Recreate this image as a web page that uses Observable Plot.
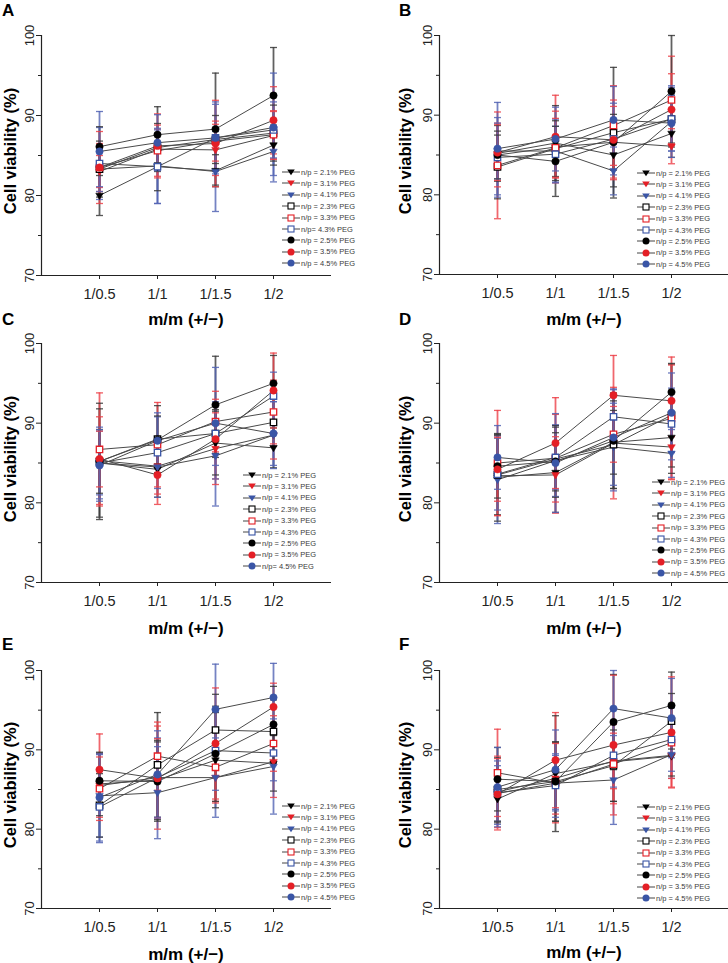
<!DOCTYPE html>
<html><head><meta charset="utf-8">
<script src="https://cdn.jsdelivr.net/npm/d3@7"></script>
<script src="https://cdn.jsdelivr.net/npm/@observablehq/plot@0.6"></script>
<style>
body{margin:0;background:#fff;}
#chart{position:relative;width:728px;height:963px;overflow:hidden;font-family:"Liberation Sans",Arial,sans-serif;background:#fff;}
.panel{position:absolute;}
.panel svg{overflow:visible;max-width:none!important;}
.letter{position:absolute;font-weight:bold;font-size:17px;line-height:1;}
.xtitle{position:absolute;font-weight:bold;font-size:17px;transform:translate(-50%,-50%);white-space:nowrap;line-height:1;}
.ytitle{position:absolute;font-weight:bold;font-size:16.5px;transform:translate(-50%,-50%) rotate(-90deg);white-space:nowrap;line-height:1;}
.lrow{position:absolute;height:10px;display:flex;align-items:center;font-size:7.5px;color:#3a3a3a;white-space:nowrap;}
.lrow svg{flex:none;}
</style></head>
<body><div id="chart"></div>
<script>
// ---------- data ----------
const categories = ["1/0.5", "1/1", "1/1.5", "1/2"];
const seriesLabels = ["n/p = 2.1% PEG","n/p = 3.1% PEG","n/p = 4.1% PEG","n/p = 2.3% PEG","n/p = 3.3% PEG","n/p = 4.3% PEG","n/p = 2.5% PEG","n/p = 3.5% PEG","n/p = 4.5% PEG"];
const legendOverrides = {A: {5: "n/p= 4.3% PEG"}, C: {8: "n/p= 4.5% PEG"}};
const panelLetters = ["A","B","C","D","E","F"];
const yTicks = [70, 80, 90, 100];
const yMinorTicks = [75, 85, 95];
const xTitle = "m/m (+/\u2212)";
const yTitle = "Cell viability (%)";

const valuesA = [
  [80.0,83.6,83.1,86.3],[83.0,85.8,85.7,87.5],[83.3,83.7,83.0,85.5],
  [83.3,86.0,87.0,87.8],[83.5,85.6,86.8,87.6],[84.0,83.6,87.2,88.2],
  [86.1,87.6,88.3,92.5],[83.5,86.2,86.5,89.4],[85.5,86.6,87.2,88.5]];
const errorsA = [
  [2.5,3.0,2.0,2.5],[2.0,2.5,3.2,3.0],[2.2,4.7,5.0,3.0],
  [3.5,3.0,3.0,3.5],[3.0,3.2,2.5,3.0],[4.5,4.6,4.2,3.5],
  [2.5,3.5,7.0,6.0],[4.5,4.0,5.4,4.2],[5.0,3.5,4.5,6.8]];

const valuesB = [
  [85.2,86.5,85.0,87.7],[85.0,86.0,86.6,86.1],[85.5,85.5,83.0,89.2],
  [83.5,85.8,87.8,89.5],[83.7,85.9,88.7,91.9],[84.7,85.1,87.0,89.5],
  [85.0,84.2,86.6,93.0],[85.3,87.3,86.9,90.7],[85.8,87.0,89.4,89.0]];
const errorsB = [
  [3.5,4.7,4.0,3.0],[4.0,4.5,4.5,2.2],[3.5,4.0,3.0,4.5],
  [4.0,3.5,8.2,3.0],[6.7,3.7,5.0,5.5],[5.0,3.5,4.5,4.0],
  [3.0,4.4,3.5,7.0],[3.5,5.2,5.0,4.5],[5.8,4.0,4.2,3.5]];

const valuesC = [
  [85.0,84.2,87.5,86.9],[85.3,84.6,86.8,88.5],[85.0,84.5,85.9,88.5],
  [85.2,88.0,88.7,90.1],[86.7,87.3,90.2,91.4],[85.0,86.3,88.7,93.4],
  [85.2,87.9,92.3,95.0],[85.5,83.5,88.0,94.1],[84.7,87.8,90.0,88.7]];
const errorsC = [
  [6.8,3.5,4.0,2.5],[5.5,3.5,4.5,3.0],[4.5,3.8,6.3,4.2],
  [7.3,4.2,3.0,3.0],[7.1,5.3,3.8,4.0],[4.0,4.5,4.0,3.0],
  [4.0,3.0,6.1,3.5],[3.5,3.7,5.0,4.7],[4.5,3.5,7.0,4.0]];

const valuesD = [
  [83.2,83.8,87.6,88.2],[83.4,83.5,87.5,87.0],[82.9,85.3,87.0,86.2],
  [83.5,85.5,87.3,91.0],[85.0,85.6,88.6,90.6],[83.6,85.7,90.8,89.9],
  [84.6,85.2,87.8,93.9],[84.2,87.5,93.5,92.8],[85.7,85.0,88.2,91.3]];
const errorsD = [
  [5.5,5.0,4.0,4.5],[5.0,4.8,7.0,4.0],[5.5,4.5,5.5,3.0],
  [5.0,4.0,5.5,6.5],[6.6,5.5,3.5,7.7],[4.5,4.0,3.5,4.5],
  [4.0,4.5,6.0,3.5],[4.0,5.7,5.0,4.5],[4.0,6.2,6.0,5.0]];

const valuesE = [
  [85.7,86.2,88.7,88.3],[85.5,86.5,86.5,88.5],[84.2,84.6,86.5,87.9],
  [83.0,88.1,92.5,92.3],[85.1,89.2,87.8,90.8],[82.8,86.5,89.9,89.6],
  [86.1,86.0,89.5,93.2],[87.5,86.4,90.8,95.4],[84.0,86.9,95.1,96.6]];
const errorsE = [
  [4.0,5.0,6.0,3.5],[4.0,6.5,3.0,4.5],[5.2,5.8,5.0,6.0],
  [4.0,6.6,4.5,4.0],[4.0,4.3,4.5,3.5],[4.5,5.0,5.0,3.5],
  [3.5,5.0,6.0,4.8],[4.5,5.0,7.0,3.0],[5.5,5.5,5.7,4.3]];

const valuesF = [
  [83.8,87.0,88.5,89.2],[84.7,86.4,88.6,89.3],[84.5,85.8,86.2,89.4],
  [85.0,86.0,88.0,93.6],[87.1,85.8,88.2,90.9],[84.6,85.5,89.3,91.3],
  [86.3,86.0,93.5,95.6],[84.4,88.7,90.6,92.2],[85.3,87.5,95.2,94.0]];
const errorsF = [
  [3.0,7.3,5.0,2.5],[4.5,4.5,3.5,4.0],[3.5,3.5,5.6,3.0],
  [4.0,5.0,4.5,3.5],[5.5,5.0,5.0,4.5],[4.0,4.0,4.0,4.0],
  [4.0,5.0,6.0,4.2],[4.5,6.0,8.8,7.0],[5.0,5.0,4.8,5.0]];

const panelValues = [valuesA, valuesB, valuesC, valuesD, valuesE, valuesF];
const panelErrors = [errorsA, errorsB, errorsC, errorsD, errorsE, errorsF];

// ---------- styles / layout ----------
const shapeOf = ["tri","tri","tri","sq","sq","sq","circ","circ","circ"];
const hueOf = ["k","r","b","k","r","b","k","r","b"];
const markColor = {k:"#000000", r:"#e41f26", b:"#3a55a6"};
const errColor = {k:"#3a3a3a", r:"#ec4148", b:"#5264b4"};

const layout = [
  {left:0,   ml:41, frameTop:35,  frameH:240, letterTop:2,   titleY:319, legX:282, legY:172, yTitleX:10},
  {left:364, ml:75, frameTop:35,  frameH:239, letterTop:2,   titleY:319, legX:637, legY:173, yTitleX:405},
  {left:0,   ml:41, frameTop:343, frameH:239, letterTop:311, titleY:628, legX:243, legY:475, yTitleX:10},
  {left:364, ml:75, frameTop:343, frameH:239, letterTop:311, titleY:628, legX:652, legY:482, yTitleX:405},
  {left:0,   ml:41, frameTop:670, frameH:238, letterTop:636, titleY:954, legX:282, legY:806, yTitleX:10},
  {left:364, ml:75, frameTop:670, frameH:238, letterTop:636, titleY:952, legX:637, legY:807, yTitleX:405}
];

const triDown = {draw(ctx, size){ const s = Math.sqrt(size/Math.PI)*1.05; ctx.moveTo(-s,-s*0.62); ctx.lineTo(s,-s*0.62); ctx.lineTo(0,s*1.05); ctx.closePath(); }};
const capSym = {draw(ctx){ ctx.moveTo(-3.5,0); ctx.lineTo(3.5,0); }};

const chart = document.getElementById("chart");

panelLetters.forEach((letter, p) => {
  const L = layout[p];
  const rows = [];
  panelValues[p].forEach((vals, s) => vals.forEach((v, i) => rows.push({s, xi:i, v, e:panelErrors[p][s][i]})));
  const mt = 30, mb = 40;
  const width = L.ml + 290 + 1;
  const height = mt + L.frameH + mb;
  const mc = d => markColor[hueOf[d.s]];
  const ec = d => errColor[hueOf[d.s]];
  const svg = Plot.plot({
    width, height,
    marginLeft: L.ml, marginRight: 1, marginTop: mt, marginBottom: mb,
    x: {type:"linear", domain:[-1,4]},
    y: {domain:[70,100]},
    color: {type:"identity"},
    style: {fontFamily:'"Liberation Sans", Arial, sans-serif', background:"transparent", overflow:"visible", color:"#222"},
    marks: [
      Plot.axisY(yMinorTicks, {tickSize:3, tickFormat: () => "", label:null}),
      Plot.axisY(yTicks, {tickSize:5, tickPadding:3, tickRotate:-90, fontSize:13, label:null}),
      Plot.axisX([0,1,2,3], {tickSize:4, tickPadding:9, tickFormat: i => categories[i], fontSize:14.5, label:null}),
      Plot.ruleX([-1], {stroke:"#222", strokeWidth:1.2}),
      Plot.ruleY([70], {stroke:"#222", strokeWidth:1.2}),
      Plot.ruleX(rows, {x:"xi", y1: d => d.v - d.e, y2: d => d.v + d.e, stroke: ec, strokeWidth:1.8, strokeOpacity:0.8}),
      Plot.dot(rows, {x:"xi", y: d => d.v + d.e, symbol: capSym, r:3, stroke: ec, fill:"none", strokeWidth:1.3, strokeOpacity:0.85}),
      Plot.dot(rows, {x:"xi", y: d => d.v - d.e, symbol: capSym, r:3, stroke: ec, fill:"none", strokeWidth:1.3, strokeOpacity:0.85}),
      Plot.line(rows, {x:"xi", y:"v", z:"s", stroke:"#4a4a4a", strokeWidth:1}),
      Plot.dot(rows.filter(d => shapeOf[d.s] === "tri"), {x:"xi", y:"v", symbol: triDown, r:3.6, fill: mc, stroke: mc, strokeWidth:0.5}),
      Plot.dot(rows.filter(d => shapeOf[d.s] === "sq"), {x:"xi", y:"v", symbol:"square", r:3.6, fill:"white", stroke: mc, strokeWidth:1.3}),
      Plot.dot(rows.filter(d => shapeOf[d.s] === "circ"), {x:"xi", y:"v", symbol:"circle", r:3.7, fill: mc, stroke: mc, strokeWidth:0.5})
    ]
  });
  const wrap = document.createElement("div");
  wrap.className = "panel";
  wrap.style.left = L.left + "px";
  wrap.style.top = (L.frameTop - mt) + "px";
  wrap.style.width = width + "px";
  wrap.appendChild(svg);
  chart.appendChild(wrap);

  const le = document.createElement("div");
  le.className = "letter"; le.textContent = letter;
  le.style.left = (L.left + (L.left ? 35 : 2)) + "px"; le.style.top = L.letterTop + "px";
  chart.appendChild(le);

  const xt = document.createElement("div");
  xt.className = "xtitle"; xt.textContent = xTitle;
  xt.style.left = (L.left + L.ml + 145) + "px"; xt.style.top = L.titleY + "px";
  chart.appendChild(xt);

  const yt = document.createElement("div");
  yt.className = "ytitle"; yt.textContent = yTitle;
  yt.style.left = L.yTitleX + "px"; yt.style.top = (L.frameTop + L.frameH/2 - 4) + "px";
  chart.appendChild(yt);

  seriesLabels.forEach((lab, s) => {
    const text = (legendOverrides[letter] && legendOverrides[letter][s]) || lab;
    const c = markColor[hueOf[s]];
    let sym;
    if (shapeOf[s] === "tri") sym = `<path d="M5.2,2.6 L12.8,2.6 L9,8.2 Z" fill="${c}"/>`;
    else if (shapeOf[s] === "sq") sym = `<rect x="6" y="2" width="6" height="6" fill="white" stroke="${c}" stroke-width="1.1"/>`;
    else sym = `<circle cx="9" cy="5" r="3.5" fill="${c}"/>`;
    const row = document.createElement("div");
    row.className = "lrow";
    row.style.left = L.legX + "px";
    row.style.top = (L.legY + s * 11.4 - 5) + "px";
    row.innerHTML = `<svg width="18" height="10"><line x1="0" y1="5" x2="18" y2="5" stroke="#444" stroke-width="1"/>${sym}</svg><span style="margin-left:1px">${text}</span>`;
    chart.appendChild(row);
  });
});
</script></body></html>
